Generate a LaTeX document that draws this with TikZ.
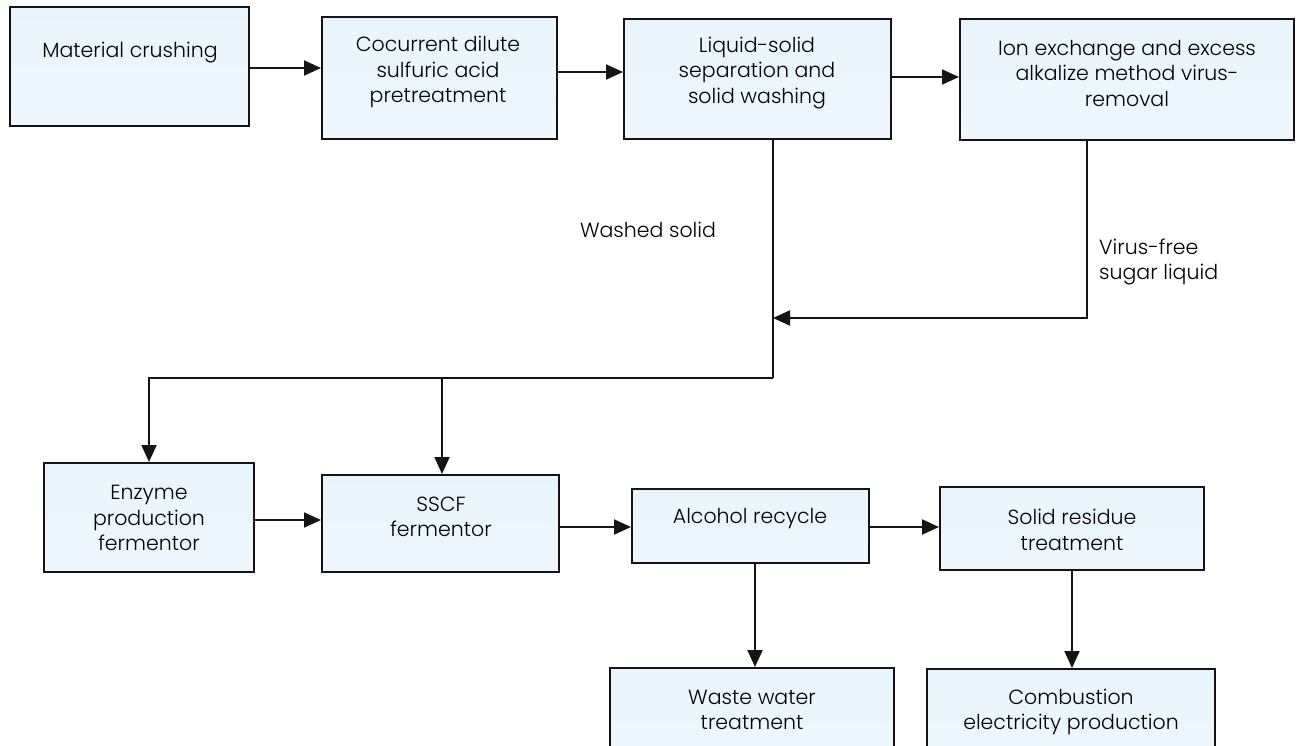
\documentclass[tikz,border=0pt]{standalone}
\usepackage{fontspec}
\setmainfont{Poppins}[UprightFont={* Light}]
\usetikzlibrary{arrows.meta,calc}

\definecolor{boxtop}{HTML}{E9F5FC}
\definecolor{boxmid}{HTML}{FBFDFF}
\definecolor{boxbot}{HTML}{EEF7FD}
\definecolor{edge}{HTML}{141414}

\tikzset{
  procbox/.style={draw=edge, line width=2pt, rectangle, inner sep=0pt,
    top color=boxtop, middle color=boxmid, bottom color=boxbot},
  boxtext/.style={align=center, font=\fontsize{20.5}{25.5}\selectfont, inner sep=0pt},
  note/.style={font=\fontsize{20.5}{25.5}\selectfont, inner sep=0pt},
  flow/.style={draw=edge, line width=2pt},
  arr/.style={flow, -{Triangle[length=17pt,width=15pt]}},
}

% place a box from its top-left and bottom-right corners (pixel grid, y down)
\newcommand{\procnode}[5]{%
  \node[procbox, minimum width=#4-#2, minimum height=#5-#3] (#1)
    at ({(#2+#4)/2},{(#3+#5)/2}) {};}

\begin{document}
\begin{tikzpicture}[x=1pt,y=-1pt]
\clip (0,0) rectangle (1307,746);
\fill[white] (0,0) rectangle (1307,746);

% top row
\procnode{b1}{10}{7}{249}{126}
\procnode{b2}{322}{17}{557}{139}
\procnode{b3}{624}{19}{891}{139}
\procnode{b4}{960}{19}{1294}{140}
% lower rows
\procnode{enz}{44}{463}{254}{572}
\procnode{sscf}{322}{475}{559}{572}
\procnode{alc}{632}{489}{869}{563}
\procnode{sol}{940}{487}{1204}{570}
\procnode{waste}{610}{668}{894}{780}
\procnode{comb}{927}{669}{1215}{780}

% box captions
\node[boxtext] (t1) at (130,53) {Material crushing};
\node[boxtext] (t2) at (438,72) {Cocurrent dilute\\sulfuric acid\\pretreatment};
\node[boxtext] (t3) at (757,73) {Liquid-solid\\separation and\\solid washing};
\node[boxtext] (t4) at (1127,73) {Ion exchange and excess\\alkalize method virus-\\removal};
\node[boxtext] (t5) at (149,518) {Enzyme\\production\\fermentor};
\node[boxtext] (t6) at (441,517) {SSCF\\fermentor};
\node[boxtext] (t7) at (750,519) {Alcohol recycle};
\node[boxtext] (t8) at (1072,530) {Solid residue\\treatment};
\node[boxtext] (t9) at (752,710) {Waste water\\treatment};
\node[boxtext] (t10) at (1071,712) {Combustion\\electricity production};

% stream labels
\node[note] (lw) at (648,230) {Washed solid};
\node[note, align=left, anchor=west] (lv) at (1099,262) {Virus-free\\sugar liquid};

% junction points
\coordinate (mix) at (773,318);
\coordinate (split) at (773,378);
\coordinate (drop) at (1087,318);

% top row flow
\draw[arr] ([yshift=-1.5pt]b1.east) -- ([yshift=-1.5pt]b1.east -| b2.west);
\draw[arr] ([yshift=6pt]b2.east) -- ([yshift=6pt]b2.east -| b3.west);
\draw[arr] ([yshift=2pt]b3.east) -- ([yshift=2pt]b3.east -| b4.west);

% washed solid and sugar liquid merge, then split
\draw[flow] (b3.south -| split) -- (split);
\draw[arr] (b4.south -| drop) -- (drop) -- (mix);
\draw[arr] (split) -- (split -| enz.north) -- (enz.north);
\draw[arr] ([xshift=1.5pt]sscf.north |- split) -- ([xshift=1.5pt]sscf.north);

% lower row flow
\draw[arr] ([yshift=-2.5pt]enz.east) -- ([yshift=-2.5pt]enz.east -| sscf.west);
\draw[arr] ([yshift=-3.5pt]sscf.east) -- ([yshift=-3.5pt]sscf.east -| alc.west);
\draw[arr] ([yshift=-1pt]alc.east) -- ([yshift=-1pt]alc.east -| sol.west);
\draw[arr] ([xshift=4.5pt]alc.south) -- ([xshift=4.5pt]alc.south |- waste.north);
\draw[arr] (sol.south) -- (sol.south |- comb.north);
\end{tikzpicture}
\end{document}
